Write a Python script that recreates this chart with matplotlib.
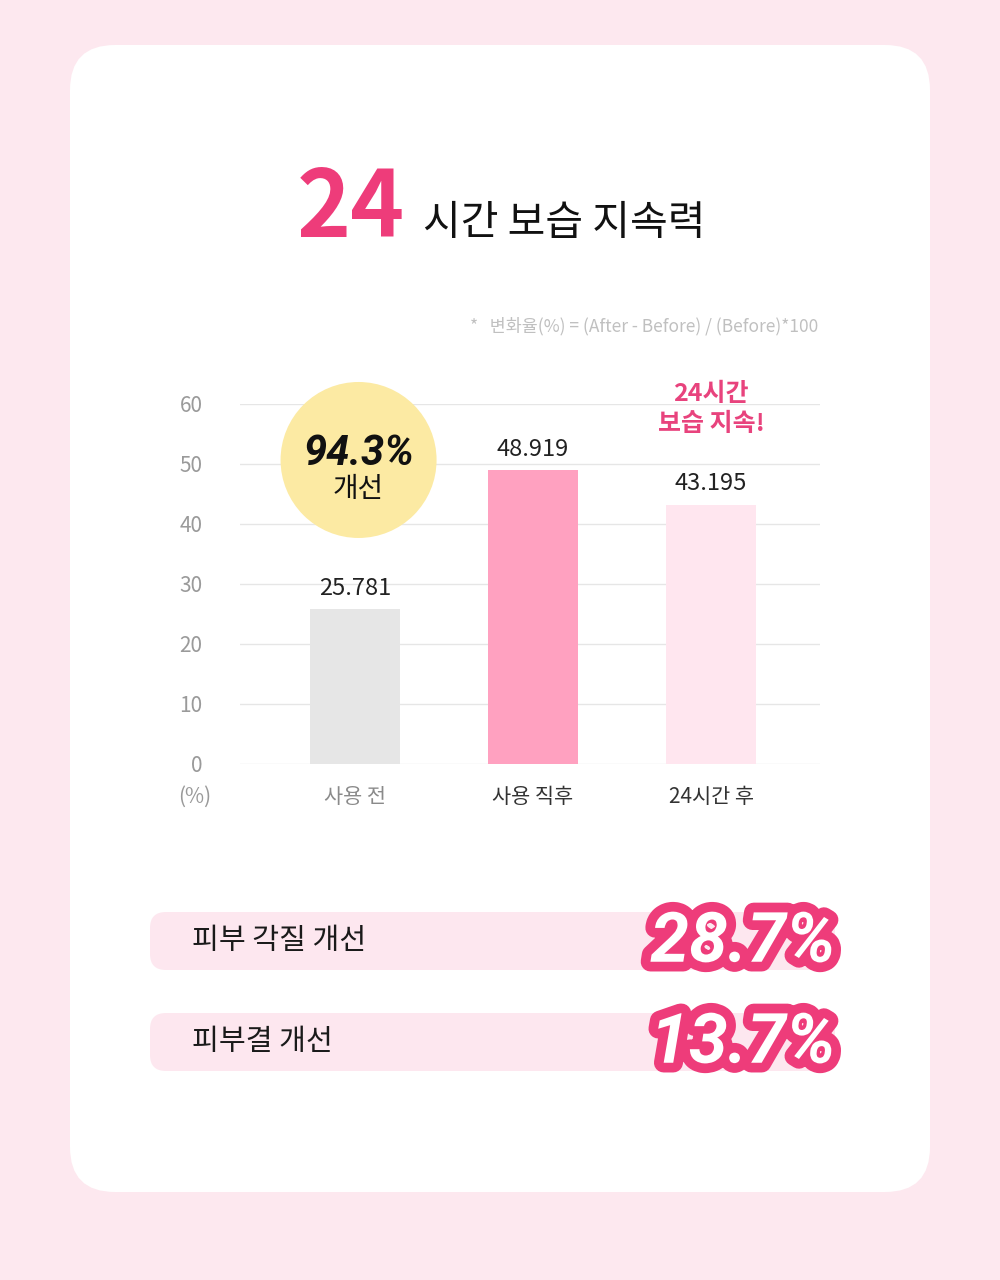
import matplotlib.pyplot as plt
import matplotlib.patheffects as pe
from matplotlib.patches import FancyBboxPatch, Ellipse

plt.rcParams['font.family'] = ['Noto Sans CJK KR', 'DejaVu Sans']

# ---------- 데이터 ----------
categories = ['사용 전', '사용 직후', '24시간 후']
values = [25.781, 48.919, 43.195]
bar_colors = ['#E6E6E6', '#FFA1C0', '#FFE6EF']
cat_colors = ['#8A8A8A', '#333333', '#333333']
yticks = [0, 10, 20, 30, 40, 50, 60]

improve_rate = '94.3%'
extra_labels = ['피부 각질 개선', '피부결 개선']
extra_values = ['28.7%', '13.7%']

PINK = '#EE3C7A'

fig = plt.figure(figsize=(10, 12.8), dpi=100)
fig.patch.set_facecolor('#FDE8EF')

# 배경 (픽셀 좌표)
bg = fig.add_axes([0, 0, 1, 1], zorder=0)
bg.set_xlim(0, 1000)
bg.set_ylim(1280, 0)
bg.axis('off')

card = FancyBboxPatch((70, 45), 860, 1147, boxstyle='round,pad=0,rounding_size=45',
                      facecolor='white', edgecolor='none')
bg.add_patch(card)

# 제목
bg.text(405, 237, '24', ha='right', va='baseline', fontsize=66, fontweight='bold', color=PINK)
bg.text(423, 235, '시간 보습 지속력', ha='left', va='baseline', fontsize=29.5, color='#111111')

bg.text(818, 326, '*   변화율(%) = (After - Before) / (Before)*100', ha='right', va='center',
        fontsize=12.5, color='#C0C0C0')

bg.text(195, 797, '(%)', ha='center', va='center', fontsize=15, color='#9A9A9A')

# 하단 개선 항목
for i, (lab, val) in enumerate(zip(extra_labels, extra_values)):
    yc = 941 + i * 101
    box = FancyBboxPatch((150, yc - 29), 685, 58, boxstyle='round,pad=0,rounding_size=16',
                         facecolor='#FDE7EF', edgecolor='none')
    bg.add_patch(box)
    bg.text(192, yc, lab, ha='left', va='center', fontsize=21, color='#1A1A1A')
    t = bg.text(836, yc + 2, val, ha='right', va='center', fontsize=50, fontweight='bold',
                fontstyle='italic', family=['Roboto', 'DejaVu Sans'], color='white')
    t.set_path_effects([pe.withStroke(linewidth=14, foreground=PINK)])

# ---------- 막대 그래프 ----------
ax = fig.add_axes([0.24, 1 - 764 / 1280, 0.58, 360 / 1280], zorder=1)
ax.set_facecolor('none')
x = list(range(len(categories)))
bars = ax.bar(x, values, width=0.506, color=bar_colors, zorder=2)
ax.set_xlim(-0.646, 2.612)
ax.set_ylim(0, 60)
ax.set_yticks(yticks)
ax.set_yticklabels([str(v) for v in yticks])
ax.grid(axis='y', color='#E6E6E6', linewidth=1)
ax.set_axisbelow(True)
for s in ax.spines.values():
    s.set_visible(False)
ax.tick_params(axis='y', length=0, pad=27, labelsize=15, labelcolor='#9A9A9A')
ax.tick_params(axis='x', length=0, pad=16, labelsize=15)
ax.set_xticks(x)
ax.set_xticklabels(categories)
for lbl, c in zip(ax.get_xticklabels(), cat_colors):
    lbl.set_color(c)

ax.bar_label(bars, labels=[f'{v:.3f}' for v in values], padding=7, fontsize=17, color='#222222')

# 개선율 원
circ = Ellipse((0.02, 50.67), 156 / 178, 156 / 6, facecolor='#FCEAA3', edgecolor='none',
               zorder=3, clip_on=False)
ax.add_patch(circ)
ax.text(0.02, 51.8, improve_rate, ha='center', va='center', fontsize=30, fontweight='bold',
        fontstyle='italic', family=['Roboto', 'DejaVu Sans'], color='#111111', zorder=4)
ax.text(0.02, 45.9, '개선', ha='center', va='center', fontsize=20, color='#111111', zorder=4)

# 24시간 보습 지속 강조
ax.text(2, 59.2, '24시간\n보습 지속!', ha='center', va='center', fontsize=18,
        fontweight='bold', color='#E8437D', linespacing=1.3, clip_on=False)

plt.savefig('out.png', dpi=100, facecolor=fig.get_facecolor())
